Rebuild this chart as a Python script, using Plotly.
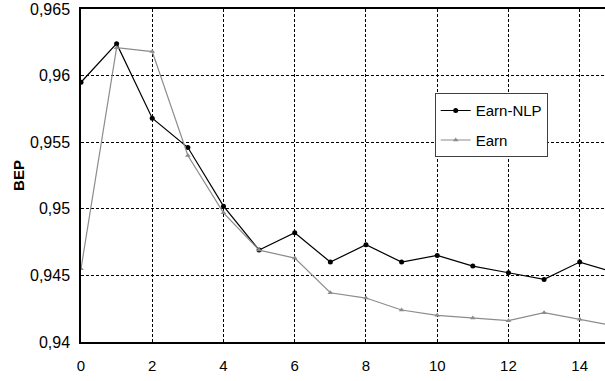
import plotly.graph_objects as go

x_vals = list(range(16))
earn_nlp = [0.9595, 0.9624, 0.9568, 0.9546, 0.9502, 0.9469, 0.9482, 0.9460, 0.9473,
            0.9460, 0.9465, 0.9457, 0.9452, 0.9447, 0.9460, 0.9452]
earn = [0.9455, 0.9621, 0.9618, 0.9540, 0.9497, 0.9469, 0.9463, 0.9437, 0.9433,
        0.9424, 0.9420, 0.9418, 0.9416, 0.9422, 0.9417, 0.9412]
x_ticks = [0, 2, 4, 6, 8, 10, 12, 14]
y_ticks = [0.94, 0.945, 0.95, 0.955, 0.96, 0.965]
y_tick_text = ["0,94", "0,945", "0,95", "0,955", "0,96", "0,965"]

fig = go.Figure()
fig.add_trace(go.Scatter(x=x_vals, y=earn_nlp, name="Earn-NLP", mode="lines+markers",
                         line=dict(color="black", width=1.2),
                         marker=dict(symbol="circle", size=5, color="black"),
                         legendgroup="a"))
fig.add_trace(go.Scatter(x=x_vals, y=earn, name="Earn", mode="lines+markers",
                         line=dict(color="#8c8c8c", width=1.2),
                         marker=dict(symbol="triangle-up", size=5, color="#8c8c8c"),
                         legendgroup="b"))

font_family = "Liberation Sans, Arial, sans-serif"
fig.update_layout(
    width=605, height=381,
    margin=dict(l=81, r=0, t=9, b=39),
    paper_bgcolor="white", plot_bgcolor="white",
    font=dict(family=font_family, size=15, color="black"),
    showlegend=True,
    legend=dict(x=0.675, y=0.747, xanchor="left", yanchor="top",
                bgcolor="white", bordercolor="#404040", borderwidth=1,
                font=dict(size=15), itemwidth=30, tracegroupgap=7,
                traceorder="grouped"),
    xaxis=dict(range=[0, 14.71], tickvals=x_ticks, ticks="", showline=True,
               linecolor="black", linewidth=1.5, mirror=True,
               showgrid=True, gridcolor="black", griddash="3px,2px", gridwidth=1,
               zeroline=False, tickfont=dict(size=15), ticklabelstandoff=9),
    yaxis=dict(range=[0.94, 0.965], tickvals=y_ticks, ticktext=y_tick_text, ticks="",
               showline=True, linecolor="black", linewidth=1.5,
               showgrid=True, gridcolor="black", griddash="3px,2px", gridwidth=1,
               zeroline=False, tickfont=dict(size=16), ticklabelstandoff=6,
               title=dict(text="<b>BEP</b>", font=dict(size=15), standoff=2)),
)
fig.write_html("out.html")
